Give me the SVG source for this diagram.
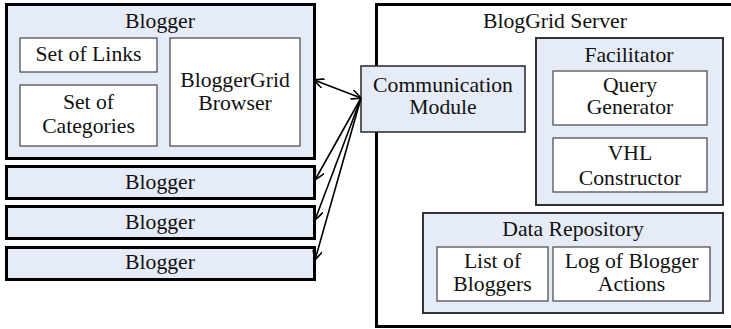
<svg xmlns="http://www.w3.org/2000/svg" width="731" height="329" viewBox="0 0 731 329" font-family="'Liberation Serif', 'Times New Roman', 'DejaVu Serif', serif">
  <style>
    text { font-family: "Liberation Serif", "Times New Roman", Tinos, "DejaVu Serif", serif; font-size: 21.7px; fill: #111; text-anchor: middle; }
    .client { fill: #e6ecf7; stroke: #000; stroke-width: 3; }
    .panel { fill: #e6ecf7; stroke: #333; stroke-width: 2; }
    .part { fill: #fff; stroke: #444; stroke-width: 1.2; }
    .server { fill: #fff; stroke: #000; stroke-width: 3; }
    .link { fill: none; stroke: #000; stroke-width: 1.6; }
  </style>
  <defs>
    <marker id="head" viewBox="0 0 10 10" refX="10" refY="5" markerWidth="10" markerHeight="10" markerUnits="userSpaceOnUse" orient="auto-start-reverse">
      <path d="M0,0 L10,5 L0,10" fill="none" stroke="#000" stroke-width="1.6"/>
    </marker>
  </defs>

  <!-- main blogger client -->
  <g id="blogger-main">
    <rect class="client" x="6.5" y="4.5" width="308" height="154"/>
    <text x="160" y="28">Blogger</text>
    <g id="set-of-links">
      <rect class="part" x="20" y="38" width="137" height="34"/>
      <text x="88.5" y="61">Set of Links</text>
    </g>
    <g id="set-of-categories">
      <rect class="part" x="20" y="85" width="137" height="61"/>
      <text x="88.5" y="109">Set of</text>
      <text x="88.5" y="133">Categories</text>
    </g>
    <g id="bloggergrid-browser">
      <rect class="part" x="170" y="38" width="130" height="108"/>
      <text x="235" y="87">BloggerGrid</text>
      <text x="235" y="110">Browser</text>
    </g>
  </g>

  <!-- further blogger clients -->
  <g id="blogger-2">
    <rect class="client" x="6.5" y="166.5" width="308" height="32"/>
    <text x="160" y="189">Blogger</text>
  </g>
  <g id="blogger-3">
    <rect class="client" x="6.5" y="206.5" width="308" height="32"/>
    <text x="160" y="229">Blogger</text>
  </g>
  <g id="blogger-4">
    <rect class="client" x="6.5" y="247.5" width="308" height="32"/>
    <text x="160" y="269">Blogger</text>
  </g>

  <!-- server -->
  <g id="server">
    <rect class="server" x="376.5" y="4.5" width="400" height="322"/>
    <text x="555" y="28">BlogGrid Server</text>
  </g>

  <g id="facilitator">
    <rect class="panel" x="536" y="38" width="187" height="167"/>
    <text x="629" y="62">Facilitator</text>
    <g id="query-generator">
      <rect class="part" x="553" y="71" width="154" height="54"/>
      <text x="630" y="92">Query</text>
      <text x="630" y="114">Generator</text>
    </g>
    <g id="vhl-constructor">
      <rect class="part" x="553" y="138" width="154" height="54"/>
      <text x="630" y="160">VHL</text>
      <text x="630" y="185">Constructor</text>
    </g>
  </g>

  <g id="data-repository">
    <rect class="panel" x="423" y="213" width="300" height="100"/>
    <text x="573" y="236">Data Repository</text>
    <g id="list-of-bloggers">
      <rect class="part" x="437" y="247" width="111" height="54"/>
      <text x="492.5" y="268">List of</text>
      <text x="492.5" y="291">Bloggers</text>
    </g>
    <g id="log-of-actions">
      <rect class="part" x="553" y="247" width="157" height="54"/>
      <text x="631.5" y="268">Log of Blogger</text>
      <text x="631.5" y="291">Actions</text>
    </g>
  </g>

  <g id="communication-module">
    <rect x="361" y="66" width="164" height="66" fill="#e6ecf7" stroke="#333" stroke-width="1.6"/>
    <text x="443" y="92">Communication</text>
    <text x="443" y="114">Module</text>
  </g>

  <!-- connectors -->
  <g id="connectors">
    <line class="link" x1="314" y1="80" x2="361" y2="98" marker-start="url(#head)" marker-end="url(#head)"/>
    <line class="link" x1="361" y1="98" x2="315" y2="180" marker-end="url(#head)"/>
    <line class="link" x1="361" y1="98" x2="315" y2="220" marker-end="url(#head)"/>
    <line class="link" x1="361" y1="98" x2="315" y2="260" marker-end="url(#head)"/>
  </g>
</svg>
